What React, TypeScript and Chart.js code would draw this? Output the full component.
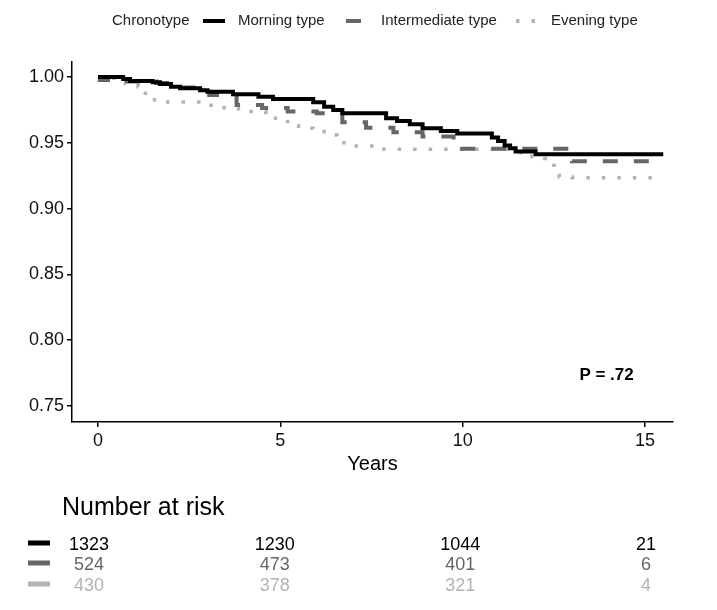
import { useEffect, useRef } from "react";
import { Chart, registerables } from "chart.js";

Chart.register(...registerables);

// Kaplan-Meier steps: time (years) and survival after the step
const chronotypes = ["Morning type", "Intermediate type", "Evening type"];

const morningTimes = [0, 0.69, 0.88, 1.5, 1.7, 2.0, 2.25, 2.8, 3.0, 3.7, 4.4, 4.8, 5.9, 6.2, 6.45, 6.7, 7.9, 8.2, 8.55, 8.9, 9.4, 9.85, 10.8, 10.97, 11.15, 11.3, 11.45, 12.0, 15.5];
const morningSurv = [1, 0.9985, 0.997, 0.996, 0.9947, 0.9926, 0.9914, 0.99, 0.9888, 0.9868, 0.985, 0.9833, 0.9808, 0.9774, 0.975, 0.9725, 0.9686, 0.9666, 0.964, 0.961, 0.959, 0.957, 0.954, 0.9514, 0.948, 0.9458, 0.9433, 0.9413, 0.9413];

const intermediateTimes = [0, 0.05, 0.8, 1.6, 2.3, 3.05, 3.8, 4.5, 5.2, 6.0, 6.7, 7.35, 8.1, 8.9, 9.75, 13.0, 15.5];
const intermediateSurv = [1, 0.9977, 0.9965, 0.9955, 0.992, 0.9863, 0.9787, 0.9765, 0.9737, 0.9724, 0.9656, 0.9615, 0.958, 0.9547, 0.9455, 0.936, 0.936];

const eveningTimes = [0, 0.1, 0.75, 1.1, 1.3, 1.55, 3.1, 3.85, 4.6, 5.2, 5.5, 5.9, 6.2, 6.55, 6.85, 7.6, 11.6, 11.9, 12.25, 12.5, 12.65, 13.0, 15.5];
const eveningSurv = [1, 0.999, 0.995, 0.9926, 0.985, 0.981, 0.9767, 0.9737, 0.9686, 0.963, 0.961, 0.9585, 0.956, 0.95, 0.9476, 0.945, 0.9425, 0.9394, 0.938, 0.933, 0.924, 0.9235, 0.9235];

// number at risk table
const riskTimes = [0, 5, 10, 15];
const riskMorning = [1323, 1230, 1044, 21];
const riskIntermediate = [524, 473, 401, 6];
const riskEvening = [430, 378, 321, 4];

const xTicks = [0, 5, 10, 15];
const yTicks = [0.75, 0.8, 0.85, 0.9, 0.95, 1.0];
const pValueText = "P = .72";

const FONT = "'Liberation Sans', Arial, sans-serif";
const lineColors = ["#000000", "#666666", "#b3b3b3"];
const lineDashes = [[], [15, 16], [3.5, 12]];

const toPoints = (ts: number[], ss: number[]) => ts.map((t, i) => ({ x: t, y: ss[i] }));

const overlayPlugin = {
    id: "kmOverlay",
    afterDraw(chart: any) {
        const { ctx, chartArea, scales } = chart;
        const xs = scales.x;
        const ys = scales.y;
        ctx.save();

        // legend on top
        ctx.textBaseline = "middle";
        ctx.textAlign = "left";
        ctx.font = `15px ${FONT}`;
        ctx.fillStyle = "#222";
        ctx.fillText("Chronotype", 112, 21);
        const samples = [
            { x0: 203, x1: 225, tx: 238 },
            { x0: 346, x1: 361, tx: 381 },
            { x0: 516, x1: 537, tx: 551 },
        ];
        samples.forEach((s, i) => {
            ctx.beginPath();
            ctx.lineWidth = 4;
            ctx.lineCap = "butt";
            ctx.strokeStyle = lineColors[i];
            ctx.setLineDash(i === 2 ? lineDashes[2] : []);
            ctx.moveTo(s.x0, 21);
            ctx.lineTo(s.x1, 21);
            ctx.stroke();
            ctx.setLineDash([]);
            ctx.fillStyle = "#222";
            ctx.fillText(chronotypes[i], s.tx, 21);
        });

        // p value
        ctx.font = `bold 17px ${FONT}`;
        ctx.fillStyle = "#000";
        ctx.fillText(pValueText, xs.getPixelForValue(13.2), ys.getPixelForValue(0.7735));

        // x axis title
        ctx.textAlign = "center";
        ctx.textBaseline = "alphabetic";
        ctx.font = `20px ${FONT}`;
        ctx.fillStyle = "#000";
        ctx.fillText("Years", (chartArea.left + chartArea.right) / 2, 470);

        // number at risk
        ctx.textAlign = "left";
        ctx.font = `25px ${FONT}`;
        ctx.fillText("Number at risk", 62, 515);

        const rows = [riskMorning, riskIntermediate, riskEvening];
        const rowY = [543, 563, 584];
        ctx.font = `18px ${FONT}`;
        ctx.textAlign = "center";
        rows.forEach((row, r) => {
            ctx.beginPath();
            ctx.lineWidth = 5;
            ctx.strokeStyle = lineColors[r];
            ctx.moveTo(28, rowY[r]);
            ctx.lineTo(50, rowY[r]);
            ctx.stroke();
            ctx.fillStyle = lineColors[r];
            row.forEach((n, i) => {
                const t = riskTimes[i];
                const px = xs.getPixelForValue(t) + (t / 15) * 10 - 9;
                ctx.fillText(String(n), px, rowY[r] + 6.5);
            });
        });

        ctx.restore();
    },
};

export default function App() {
    const canvasRef = useRef<HTMLCanvasElement>(null);
    const chartRef = useRef<Chart | null>(null);

    useEffect(() => {
        if (!canvasRef.current) return;
        if (chartRef.current) chartRef.current.destroy();

        const series = [
            toPoints(morningTimes, morningSurv),
            toPoints(intermediateTimes, intermediateSurv),
            toPoints(eveningTimes, eveningSurv),
        ];

        chartRef.current = new Chart(canvasRef.current, {
            type: "line",
            data: {
                datasets: series.map((pts, i) => ({
                    label: chronotypes[i],
                    data: pts,
                    borderColor: lineColors[i],
                    borderWidth: i === 2 ? 3.5 : 4,
                    borderDash: lineDashes[i],
                    borderCapStyle: "butt" as const,
                    borderJoinStyle: "miter" as const,
                    pointRadius: 0,
                    stepped: "before" as const,
                    fill: false,
                })),
            },
            options: {
                animation: false,
                responsive: true,
                maintainAspectRatio: false,
                layout: { padding: { left: 0, right: 44, top: 62, bottom: 158 } },
                plugins: {
                    legend: { display: false },
                    tooltip: { enabled: false },
                },
                scales: {
                    x: {
                        type: "linear",
                        min: -0.713,
                        max: 15.767,
                        afterFit: (s: any) => { s.height = 30; },
                        afterBuildTicks: (s: any) => { s.ticks = xTicks.map((value) => ({ value })); },
                        border: { display: true, color: "#000", width: 1.5 },
                        grid: { display: true, drawOnChartArea: false, drawTicks: true, tickLength: 5, color: "#000", lineWidth: 1.5 },
                        ticks: {
                            color: "#111",
                            font: { family: FONT, size: 18 },
                            padding: 3,
                            maxRotation: 0,
                            callback: (v) => String(v),
                        },
                    },
                    y: {
                        type: "linear",
                        min: 0.7378,
                        max: 1.0114,
                        afterFit: (s: any) => { s.width = 72; },
                        afterBuildTicks: (s: any) => { s.ticks = yTicks.map((value) => ({ value })); },
                        border: { display: true, color: "#000", width: 1.5 },
                        grid: { display: true, drawOnChartArea: false, drawTicks: true, tickLength: 5, color: "#000", lineWidth: 1.5 },
                        ticks: {
                            color: "#111",
                            font: { family: FONT, size: 18 },
                            padding: 3,
                            callback: (v) => Number(v).toFixed(2),
                        },
                    },
                },
            },
            plugins: [overlayPlugin],
        });

        return () => {
            chartRef.current?.destroy();
            chartRef.current = null;
        };
    }, []);

    return (
        <div style={{ position: "absolute", left: 0, top: 0, width: "717px", height: "610px", background: "#fff" }}>
            <canvas
                ref={canvasRef}
                role="img"
                aria-label="Kaplan-Meier curves by chronotype with number at risk table"
            />
        </div>
    );
}
